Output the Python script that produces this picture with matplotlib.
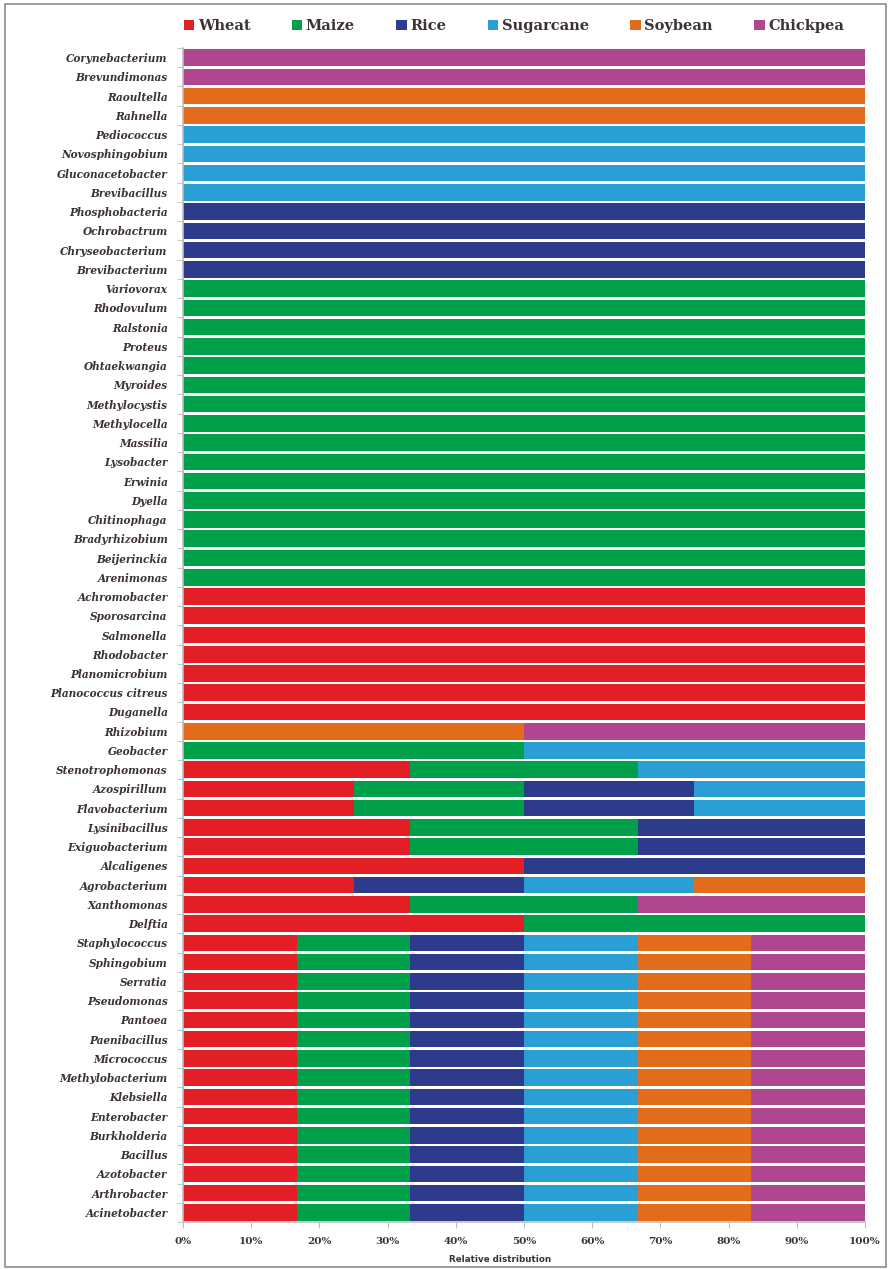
import matplotlib.pyplot as plt
import numpy as np
from matplotlib.patches import Rectangle

# genera, top to bottom
genera = [
    "Corynebacterium", "Brevundimonas", "Raoultella", "Rahnella", "Pediococcus",
    "Novosphingobium", "Gluconacetobacter", "Brevibacillus", "Phosphobacteria", "Ochrobactrum",
    "Chryseobacterium", "Brevibacterium", "Variovorax", "Rhodovulum", "Ralstonia",
    "Proteus", "Ohtaekwangia", "Myroides", "Methylocystis", "Methylocella",
    "Massilia", "Lysobacter", "Erwinia", "Dyella", "Chitinophaga",
    "Bradyrhizobium", "Beijerinckia", "Arenimonas", "Achromobacter", "Sporosarcina",
    "Salmonella", "Rhodobacter", "Planomicrobium", "Planococcus citreus", "Duganella",
    "Rhizobium", "Geobacter", "Stenotrophomonas", "Azospirillum", "Flavobacterium",
    "Lysinibacillus", "Exiguobacterium", "Alcaligenes", "Agrobacterium", "Xanthomonas",
    "Delftia", "Staphylococcus", "Sphingobium", "Serratia", "Pseudomonas",
    "Pantoea", "Paenibacillus", "Micrococcus", "Methylobacterium", "Klebsiella",
    "Enterobacter", "Burkholderia", "Bacillus", "Azotobacter", "Arthrobacter",
    "Acinetobacter",
]

crops = ["Wheat", "Maize", "Rice", "Sugarcane", "Soybean", "Chickpea"]
colors = ["#E31E24", "#00A04B", "#2E3A8C", "#2A9FD6", "#E36C1C", "#B0468F"]

# presence (1) of each genus in each crop, same order as genera
wheat = [0, 0, 0, 0, 0, 0, 0, 0, 0, 0,
         0, 0, 0, 0, 0, 0, 0, 0, 0, 0,
         0, 0, 0, 0, 0, 0, 0, 0, 1, 1,
         1, 1, 1, 1, 1, 0, 0, 1, 1, 1,
         1, 1, 1, 1, 1, 1, 1, 1, 1, 1,
         1, 1, 1, 1, 1, 1, 1, 1, 1, 1, 1]
maize = [0, 0, 0, 0, 0, 0, 0, 0, 0, 0,
         0, 0, 1, 1, 1, 1, 1, 1, 1, 1,
         1, 1, 1, 1, 1, 1, 1, 1, 0, 0,
         0, 0, 0, 0, 0, 0, 1, 1, 1, 1,
         1, 1, 0, 0, 1, 1, 1, 1, 1, 1,
         1, 1, 1, 1, 1, 1, 1, 1, 1, 1, 1]
rice = [0, 0, 0, 0, 0, 0, 0, 0, 1, 1,
        1, 1, 0, 0, 0, 0, 0, 0, 0, 0,
        0, 0, 0, 0, 0, 0, 0, 0, 0, 0,
        0, 0, 0, 0, 0, 0, 0, 0, 1, 1,
        1, 1, 1, 1, 0, 0, 1, 1, 1, 1,
        1, 1, 1, 1, 1, 1, 1, 1, 1, 1, 1]
sugarcane = [0, 0, 0, 0, 1, 1, 1, 1, 0, 0,
             0, 0, 0, 0, 0, 0, 0, 0, 0, 0,
             0, 0, 0, 0, 0, 0, 0, 0, 0, 0,
             0, 0, 0, 0, 0, 0, 1, 1, 1, 1,
             0, 0, 0, 1, 0, 0, 1, 1, 1, 1,
             1, 1, 1, 1, 1, 1, 1, 1, 1, 1, 1]
soybean = [0, 0, 1, 1, 0, 0, 0, 0, 0, 0,
           0, 0, 0, 0, 0, 0, 0, 0, 0, 0,
           0, 0, 0, 0, 0, 0, 0, 0, 0, 0,
           0, 0, 0, 0, 0, 1, 0, 0, 0, 0,
           0, 0, 0, 1, 0, 0, 1, 1, 1, 1,
           1, 1, 1, 1, 1, 1, 1, 1, 1, 1, 1]
chickpea = [1, 1, 0, 0, 0, 0, 0, 0, 0, 0,
            0, 0, 0, 0, 0, 0, 0, 0, 0, 0,
            0, 0, 0, 0, 0, 0, 0, 0, 0, 0,
            0, 0, 0, 0, 0, 1, 0, 0, 0, 0,
            0, 0, 0, 0, 1, 0, 1, 1, 1, 1,
            1, 1, 1, 1, 1, 1, 1, 1, 1, 1, 1]

counts = np.array([wheat, maize, rice, sugarcane, soybean, chickpea], dtype=float)
shares = counts / counts.sum(axis=0)

label_color = "#3d3232"
axis_grey = "#bdbdbd"

fig = plt.figure(figsize=(8.89, 12.69), dpi=100)
ax = fig.add_axes([183 / 889, 1 - 1222 / 1269, 682 / 889, 1174 / 1269])

y = np.arange(len(genera))
left = np.zeros(len(genera))
for crop, col, row in zip(crops, colors, shares):
    ax.barh(y, row, left=left, height=0.86, color=col, label=crop, linewidth=0)
    left += row

ax.set_ylim(len(genera) - 0.5, -0.5)
ax.set_xlim(0, 1)
ax.set_yticks(y)
ax.set_yticklabels(genera, family="DejaVu Serif", style="italic",
                   fontweight="bold", fontsize=7.6, color=label_color)
ax.set_yticks(np.arange(len(genera) + 1) - 0.5, minor=True)
ax.tick_params(axis="y", which="major", length=0, pad=11)
ax.tick_params(axis="y", which="minor", length=4, color=axis_grey)

xt = np.linspace(0, 1, 11)
ax.set_xticks(xt)
ax.set_xticklabels([f"{int(round(v * 100))}%" for v in xt], family="DejaVu Serif",
                   fontweight="bold", fontsize=7.5, color=label_color)
ax.tick_params(axis="x", length=4, color=axis_grey, pad=7)

for s in ["top", "right"]:
    ax.spines[s].set_visible(False)
for s in ["left", "bottom"]:
    ax.spines[s].set_color(axis_grey)
    ax.spines[s].set_linewidth(1.2)

fig.text(500 / 889, 1 - 1259 / 1269, "Relative distribution", ha="center", va="center",
         fontsize=6.3, fontweight="bold", color=label_color, family="DejaVu Sans")

handles, labels = ax.get_legend_handles_labels()
fig.legend(handles, labels, loc="center", bbox_to_anchor=(514 / 889, 1 - 26 / 1269),
           ncol=6, frameon=False, handlelength=0.7, handleheight=0.7, handletextpad=0.25,
           columnspacing=2.85, prop={"family": "DejaVu Serif", "weight": "bold", "size": 10.5},
           labelcolor=label_color)

fig.patches.append(Rectangle((5 / 889, 2 / 1269), 881 / 889, 1263 / 1269,
                             transform=fig.transFigure, fill=False,
                             edgecolor="#8c8c8c", linewidth=1.2))

fig.savefig("out.png", dpi=100)
